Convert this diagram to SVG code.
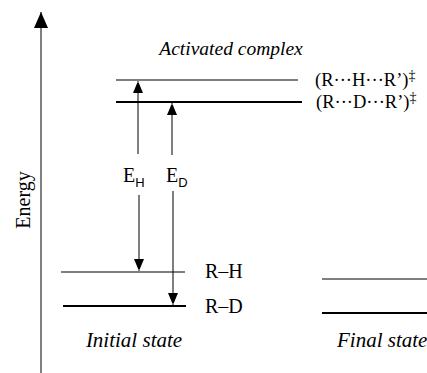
<svg xmlns="http://www.w3.org/2000/svg" width="427" height="373" viewBox="0 0 427 373">
<style>
text{font-family:"Liberation Serif","Times New Roman",serif;fill:#000;font-size:20px}
.it{font-style:italic;font-size:19.5px}
.st{font-style:italic;font-size:21px}
.thin{stroke:#000;stroke-width:1.2;fill:none}
.thick{stroke:#000;stroke-width:2.2;fill:none}
.ar{stroke:#000;stroke-width:1;fill:none}
.lv{font-size:18.5px}
.dg{font-size:14px}
.sub{font-family:"Liberation Sans",Arial,sans-serif;font-size:13px}
</style>
<defs>
<marker id="ah" markerWidth="10" markerHeight="12" refX="12" refY="5" orient="auto" markerUnits="userSpaceOnUse">
<path d="M0,0 L12,5 L0,10 Z" fill="#000"/>
</marker>
<marker id="big" markerWidth="16" markerHeight="14" refX="16" refY="7" orient="auto" markerUnits="userSpaceOnUse">
<path d="M0,0 L16,7 L0,14 Z" fill="#000"/>
</marker>
</defs>
<g id="axis">
<line x1="41" y1="373" x2="41" y2="12" class="ar" stroke-width="1.3" marker-end="url(#big)"/>
<text transform="translate(30,200) rotate(-90)" text-anchor="middle" font-size="22">Energy</text>
</g>
<g id="activated">
<text x="231" y="55" class="it" text-anchor="middle">Activated complex</text>
<line x1="116" y1="80" x2="298" y2="80" class="thin"/>
<line x1="116" y1="102" x2="302" y2="102" class="thick"/>
<text x="315" y="86" class="lv">(R···H···R’)<tspan class="dg" dy="-6">‡</tspan></text>
<text x="316" y="108" class="lv">(R···D···R’)<tspan class="dg" dy="-6">‡</tspan></text>
</g>
<g id="initial">
<line x1="61" y1="272" x2="185" y2="272" class="thin"/>
<line x1="63" y1="306" x2="186" y2="306" class="thick"/>
<text x="205" y="278">R–H</text>
<text x="205" y="313">R–D</text>
<text x="134" y="347" class="st" text-anchor="middle">Initial state</text>
</g>
<g id="final">
<line x1="322" y1="279" x2="427" y2="279" class="thin"/>
<line x1="322" y1="313" x2="427" y2="313" class="thick"/>
<text x="337" y="347" class="st">Final state</text>
</g>
<g id="connectors">
<line x1="138" y1="154" x2="138" y2="81" class="ar" marker-end="url(#ah)"/>
<line x1="139" y1="195" x2="139" y2="271" class="ar" marker-end="url(#ah)"/>
<line x1="172" y1="155" x2="172" y2="103" class="ar" marker-end="url(#ah)"/>
<line x1="173" y1="191" x2="173" y2="305" class="ar" marker-end="url(#ah)"/>
</g>
<g id="labels">
<text x="123" y="182" font-size="19">E<tspan class="sub" dy="5">H</tspan></text>
<text x="166" y="182" font-size="19">E<tspan class="sub" dy="5">D</tspan></text>
</g>
</svg>
